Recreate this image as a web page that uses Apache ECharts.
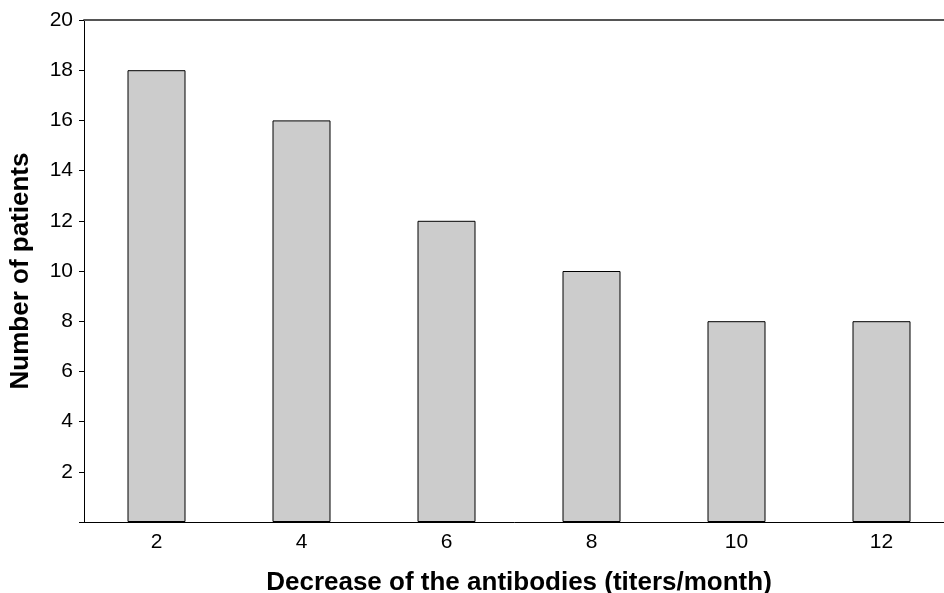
<!DOCTYPE html>
<html>
<head>
<meta charset="utf-8">
<script src="https://cdn.jsdelivr.net/npm/echarts@6/dist/echarts.min.js"></script>
<style>
  html, body { margin: 0; padding: 0; background: #fff; }
  #chart { width: 944px; height: 593px; }
</style>
</head>
<body>
<div id="chart"></div>
<script>
const categories = ['2', '4', '6', '8', '10', '12'];
const patients = [18, 16, 12, 10, 8, 8];

const chart = echarts.init(document.getElementById('chart'));
const font = 'Liberation Sans, Arial, sans-serif';

const option = {
  animation: false,
  grid: { left: 84, top: 20, height: 502, width: 870, outerBoundsMode: 'none', containLabel: false },
  xAxis: [
    {
      type: 'category',
      data: categories,
      name: 'Decrease of the antibodies (titers/month)',
      nameLocation: 'middle',
      nameGap: 48,
      nameTextStyle: { fontFamily: font, fontSize: 26, fontWeight: 'bold', color: '#000' },
      axisLine: { lineStyle: { color: '#000', width: 1 } },
      axisTick: { length: 5, lineStyle: { color: '#000' } },
      axisLabel: { fontFamily: font, fontSize: 21, color: '#000', margin: 10 }
    },
    {
      type: 'category',
      position: 'top',
      data: categories,
      axisLine: { lineStyle: { color: '#555', width: 2 } },
      axisTick: { show: false },
      axisLabel: { show: false }
    }
  ],
  yAxis: {
    type: 'value',
    min: 0,
    max: 20,
    interval: 2,
    name: 'Number of patients',
    nameLocation: 'middle',
    nameGap: 50,
    nameTextStyle: { fontFamily: font, fontSize: 26, fontWeight: 'bold', color: '#000' },
    axisLine: { show: true, lineStyle: { color: '#000', width: 1 } },
    axisTick: { show: true, length: 5, lineStyle: { color: '#000' } },
    splitLine: { show: false },
    axisLabel: {
      fontFamily: font, fontSize: 21, color: '#000', margin: 11,
      formatter: v => (v === 0 ? '' : v)
    }
  },
  series: [
    {
      type: 'bar',
      data: patients,
      barWidth: '40%',
      itemStyle: { color: '#cccccc', borderColor: '#000', borderWidth: 1 }
    }
  ]
};

chart.setOption(option);
</script>
</body>
</html>
